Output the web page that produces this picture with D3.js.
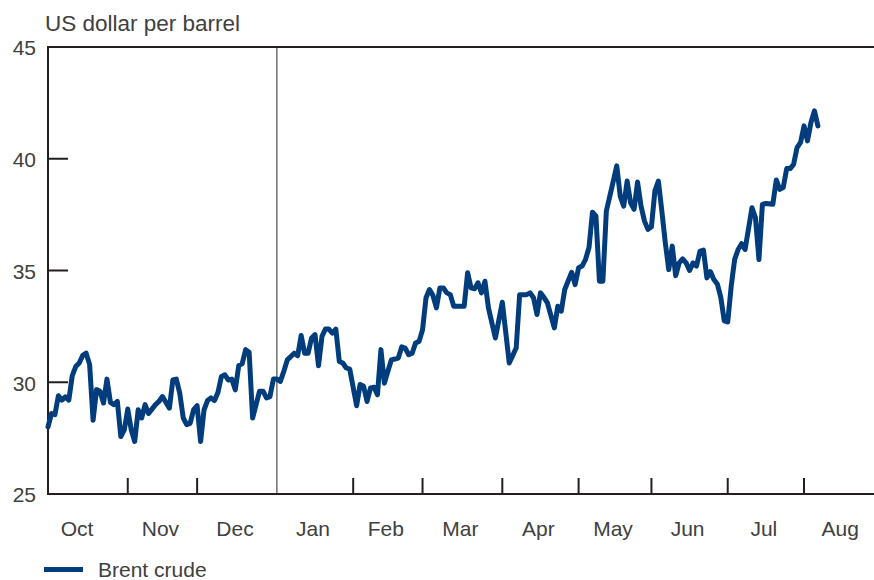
<!DOCTYPE html>
<html>
<head>
<meta charset="utf-8">
<script src="https://cdn.jsdelivr.net/npm/d3@7"></script>
<style>
  body { margin: 0; background: #ffffff; }
  text { font-family: "Liberation Sans", Arial, sans-serif; fill: #404040; }
</style>
</head>
<body>
<svg id="chart"></svg>
<script>

// Brent crude, daily (business days)
const dates = [
  "2003-10-01","2003-10-02","2003-10-03","2003-10-06","2003-10-07","2003-10-08","2003-10-09","2003-10-10","2003-10-13","2003-10-14",
  "2003-10-15","2003-10-16","2003-10-17","2003-10-20","2003-10-21","2003-10-22","2003-10-23","2003-10-24","2003-10-27","2003-10-28",
  "2003-10-29","2003-10-30","2003-10-31","2003-11-03","2003-11-04","2003-11-05","2003-11-06","2003-11-07","2003-11-10","2003-11-11",
  "2003-11-13","2003-11-14","2003-11-17","2003-11-19","2003-11-20","2003-11-21","2003-11-24","2003-11-25","2003-11-26","2003-11-27",
  "2003-11-28","2003-12-01","2003-12-02","2003-12-03","2003-12-04","2003-12-05","2003-12-08","2003-12-09","2003-12-10","2003-12-11",
  "2003-12-12","2003-12-15","2003-12-16","2003-12-17","2003-12-18","2003-12-19","2003-12-22","2003-12-23","2003-12-25","2003-12-26",
  "2003-12-29","2003-12-30","2003-12-31","2004-01-01","2004-01-02","2004-01-05","2004-01-06","2004-01-08","2004-01-09","2004-01-12",
  "2004-01-13","2004-01-14","2004-01-15","2004-01-16","2004-01-19","2004-01-20","2004-01-21","2004-01-22","2004-01-23","2004-01-26",
  "2004-01-27","2004-01-28","2004-01-29","2004-01-30","2004-02-03","2004-02-04","2004-02-05","2004-02-06","2004-02-09","2004-02-10",
  "2004-02-11","2004-02-12","2004-02-13","2004-02-16","2004-02-17","2004-02-18","2004-02-19","2004-02-20","2004-02-23","2004-02-24",
  "2004-02-25","2004-02-26","2004-02-27","2004-03-01","2004-03-02","2004-03-03","2004-03-04","2004-03-05","2004-03-08","2004-03-09",
  "2004-03-10","2004-03-11","2004-03-12","2004-03-17","2004-03-18","2004-03-19","2004-03-22","2004-03-23","2004-03-24","2004-03-25",
  "2004-03-26","2004-03-30","2004-04-01","2004-04-05","2004-04-07","2004-04-08","2004-04-12","2004-04-13","2004-04-14","2004-04-15",
  "2004-04-16","2004-04-19","2004-04-20","2004-04-22","2004-04-23","2004-04-26","2004-04-27","2004-04-29","2004-04-30","2004-05-03",
  "2004-05-04","2004-05-05","2004-05-06","2004-05-07","2004-05-10","2004-05-11","2004-05-12","2004-05-13","2004-05-14","2004-05-17",
  "2004-05-18","2004-05-19","2004-05-20","2004-05-21","2004-05-24","2004-05-25","2004-05-26","2004-05-27","2004-05-28","2004-05-31",
  "2004-06-01","2004-06-02","2004-06-03","2004-06-04","2004-06-07","2004-06-08","2004-06-09","2004-06-10","2004-06-11","2004-06-14",
  "2004-06-15","2004-06-16","2004-06-17","2004-06-18","2004-06-21","2004-06-22","2004-06-23","2004-06-24","2004-06-25","2004-06-28",
  "2004-06-29","2004-06-30","2004-07-01","2004-07-02","2004-07-05","2004-07-06","2004-07-07","2004-07-08","2004-07-12","2004-07-13",
  "2004-07-14","2004-07-15","2004-07-16","2004-07-20","2004-07-21","2004-07-22","2004-07-23","2004-07-26","2004-07-27","2004-07-28",
  "2004-07-29","2004-07-30","2004-08-02","2004-08-03","2004-08-04","2004-08-05","2004-08-06"
];

const prices = [
  28.0, 28.6, 28.55, 29.4, 29.2, 29.35, 29.2, 30.3, 30.7, 30.86,
  31.2, 31.3, 30.8, 28.3, 29.67, 29.6, 29.07, 30.14, 29.1, 29.0,
  29.14, 27.57, 27.87, 28.8, 27.87, 27.35, 28.77, 28.4, 29.0, 28.6,
  29.0, 29.14, 29.36, 28.84, 30.1, 30.14, 29.5, 28.4, 28.1, 28.17,
  28.77, 28.95, 27.35, 28.77, 29.18, 29.3, 29.18, 29.54, 30.26, 30.33,
  30.1, 30.14, 29.66, 30.74, 30.83, 31.46, 31.34, 28.4, 29.6, 29.6,
  29.3, 29.36, 30.14, 30.14, 30.04, 30.49, 31.0, 31.3, 31.19, 32.09,
  31.3, 31.3, 31.98, 32.13, 30.74, 32.05, 32.38, 32.38, 32.2, 32.38,
  30.93, 30.86, 30.64, 30.59, 28.95, 29.9, 29.82, 29.14, 29.75, 29.78,
  29.44, 31.46, 29.96, 30.49, 31.0, 31.04, 31.08, 31.58, 31.53, 31.23,
  31.3, 31.76, 31.83, 32.35, 33.78, 34.15, 33.88, 33.33, 34.22, 34.22,
  34.0, 33.92, 33.4, 33.4, 34.9, 34.22, 34.18, 34.45, 34.0, 34.52,
  33.33, 31.98, 33.58, 30.86, 31.53, 33.92, 33.92, 34.0, 33.78, 33.03,
  34.0, 33.8, 33.55, 32.43, 33.4, 33.18, 34.15, 34.92, 34.37, 35.12,
  35.2, 35.5, 36.03, 37.61, 37.43, 34.52, 34.52, 37.66, 38.33, 39.0,
  39.68, 38.33, 37.88, 39.0, 38.03, 37.74, 38.96, 37.88, 37.21, 36.84,
  36.96, 38.56, 39.0, 37.66, 36.24, 35.04, 36.09, 34.77, 35.34, 35.52,
  35.34, 35.0, 35.34, 35.2, 35.87, 35.91, 34.67, 34.95, 34.6, 34.4,
  33.8, 32.75, 32.7, 34.3, 35.5, 35.94, 36.2, 35.94, 37.81, 37.36,
  35.49, 37.96, 38.0, 37.96, 39.05, 38.63, 38.71, 39.56, 39.56, 39.75,
  40.5, 40.73, 41.47, 40.8, 41.62, 42.14, 41.47
];

const yTicks = [25, 30, 35, 40, 45];
const monthLabels = ["Oct", "Nov", "Dec", "Jan", "Feb", "Mar", "Apr", "May", "Jun", "Jul", "Aug"];
const axisStart = "2003-10-01";
const axisEnd = "2004-09-01";
const yearBreak = "2004-01-01";

const width = 874;
const height = 580;
const margin = { top: 47, right: 0, bottom: 86, left: 48 };
const dayStep = 3.468;
const lineColor = "#013d7c";
const axisColor = "#231f20";

const parseDate = d3.timeParse("%Y-%m-%d");

// x axis runs over business days, not calendar days
const businessDays = d3.timeDay.range(parseDate(axisStart), parseDate(axisEnd))
    .filter(d => d.getDay() !== 0 && d.getDay() !== 6);

const xScale = d3.scalePoint()
    .domain(businessDays)
    .range([margin.left, margin.left + (businessDays.length - 1) * dayStep]);

const yScale = d3.scaleLinear()
    .domain([25, 45])
    .range([height - margin.bottom, margin.top]);

const series = dates.map((d, i) => ({ date: parseDate(d), value: prices[i] }));

const svg = d3.select("#chart")
    .attr("width", width)
    .attr("height", height);

const yBottom = yScale(25);
const yTop = yScale(45);

// first business day of every month
const monthStarts = businessDays.filter((d, i) => i === 0 || d.getMonth() !== businessDays[i - 1].getMonth());

// unit label
svg.append("text")
    .attr("x", 45)
    .attr("y", 31)
    .style("font-size", "22.5px")
    .text("US dollar per barrel");

// y tick marks (inside) and labels
svg.selectAll(".y-tick")
    .data(yTicks)
    .enter()
    .append("line")
    .attr("class", "y-tick")
    .attr("x1", margin.left)
    .attr("x2", margin.left + 20)
    .attr("y1", d => yScale(d))
    .attr("y2", d => yScale(d))
    .attr("stroke", axisColor)
    .attr("stroke-width", 2);

svg.selectAll(".y-label")
    .data(yTicks)
    .enter()
    .append("text")
    .attr("class", "y-label")
    .attr("x", 36)
    .attr("y", d => yScale(d))
    .attr("dy", "0.4em")
    .style("text-anchor", "end")
    .style("font-size", "21px")
    .text(d => d);

// month ticks pointing up from the bottom axis
svg.selectAll(".x-tick")
    .data(monthStarts.slice(1).filter(d => +d !== +parseDate(yearBreak)))
    .enter()
    .append("line")
    .attr("class", "x-tick")
    .attr("x1", d => xScale(d))
    .attr("x2", d => xScale(d))
    .attr("y1", yBottom)
    .attr("y2", yBottom - 16)
    .attr("stroke", axisColor)
    .attr("stroke-width", 2);

// year divider
svg.append("line")
    .attr("x1", xScale(parseDate(yearBreak)))
    .attr("x2", xScale(parseDate(yearBreak)))
    .attr("y1", yTop)
    .attr("y2", yBottom)
    .attr("stroke", "#4a4a4a")
    .attr("stroke-width", 1.2);

// month labels centred in each month
svg.selectAll(".x-label")
    .data(monthLabels)
    .enter()
    .append("text")
    .attr("class", "x-label")
    .attr("x", (d, i) => {
        const x0 = xScale(monthStarts[i]);
        const x1 = i + 1 < monthStarts.length ? xScale(monthStarts[i + 1]) : x0 + 22 * dayStep;
        return i === 0 ? x0 + 29 : (x0 + x1) / 2 - 2;   // Oct sits a bit left in the original
    })
    .attr("y", 536)
    .style("text-anchor", "middle")
    .style("font-size", "21px")
    .text(d => d);

// frame: left, top, bottom
svg.append("line")
    .attr("x1", margin.left).attr("x2", margin.left)
    .attr("y1", yTop - 1).attr("y2", yBottom + 1)
    .attr("stroke", axisColor).attr("stroke-width", 2);

svg.append("line")
    .attr("x1", margin.left).attr("x2", width)
    .attr("y1", yTop).attr("y2", yTop)
    .attr("stroke", axisColor).attr("stroke-width", 2);

svg.append("line")
    .attr("x1", margin.left).attr("x2", width)
    .attr("y1", yBottom).attr("y2", yBottom)
    .attr("stroke", axisColor).attr("stroke-width", 2);

// the price line
const line = d3.line()
    .defined(d => xScale(d.date) !== undefined)
    .x(d => xScale(d.date))
    .y(d => yScale(d.value));

svg.append("path")
    .datum(series)
    .attr("d", line)
    .attr("fill", "none")
    .attr("stroke", lineColor)
    .attr("stroke-width", 5)
    .attr("stroke-linejoin", "round")
    .attr("stroke-linecap", "round");

// legend
svg.append("line")
    .attr("x1", 44)
    .attr("x2", 83)
    .attr("y1", 569.5)
    .attr("y2", 569.5)
    .attr("stroke", lineColor)
    .attr("stroke-width", 5);

svg.append("text")
    .attr("x", 98)
    .attr("y", 577)
    .style("font-size", "21px")
    .text("Brent crude");

</script>
</body>
</html>
